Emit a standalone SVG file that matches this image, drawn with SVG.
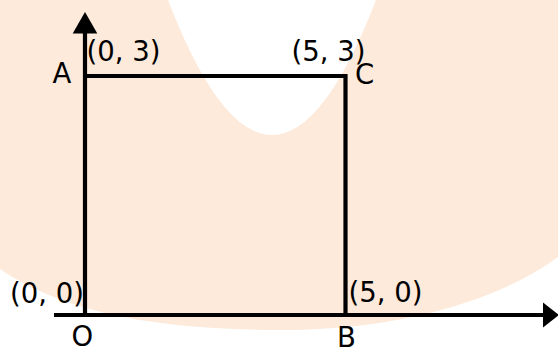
<svg xmlns="http://www.w3.org/2000/svg" width="558" height="348" viewBox="0 0 558 348">
  <style>
    text { font-family: "DejaVu Sans", "Liberation Sans", sans-serif; font-size: 27.5px; fill: #000; }
    .ln { stroke: #000; stroke-width: 4.2; fill: none; }
    .ah { fill: #000; stroke: none; }
  </style>
  <rect x="0" y="0" width="558" height="348" fill="#ffffff"/>
  <path id="watermark" d="M0,0 L168,0 Q272,270 376,0 L558,0 L558,257 C500,300 400,330 280,330 C150,330 60,310 0,269 Z" fill="#FDEADA"/>
  <g id="connectors">
    <line class="ln" x1="54" y1="315" x2="545" y2="315"/>
    <polygon class="ah" points="543,302.5 559,315 543,327.5"/>
    <line class="ln" x1="85" y1="315" x2="85" y2="31"/>
    <polygon class="ah" points="72.7,33.5 85,12 97.3,33.5"/>
    <polyline class="ln" points="85,76 345.5,76 345.5,315"/>
  </g>
  <g id="node-A">
    <text x="52.5" y="83">A</text>
    <text x="86.5" y="61">(0, 3)</text>
  </g>
  <g id="node-C">
    <text x="355" y="84">C</text>
    <text x="291.5" y="61">(5, 3)</text>
  </g>
  <g id="node-O">
    <text x="71.5" y="346">O</text>
    <text x="10" y="302.5">(0, 0)</text>
  </g>
  <g id="node-B">
    <text x="337" y="346.5">B</text>
    <text x="348.5" y="302">(5, 0)</text>
  </g>
</svg>
